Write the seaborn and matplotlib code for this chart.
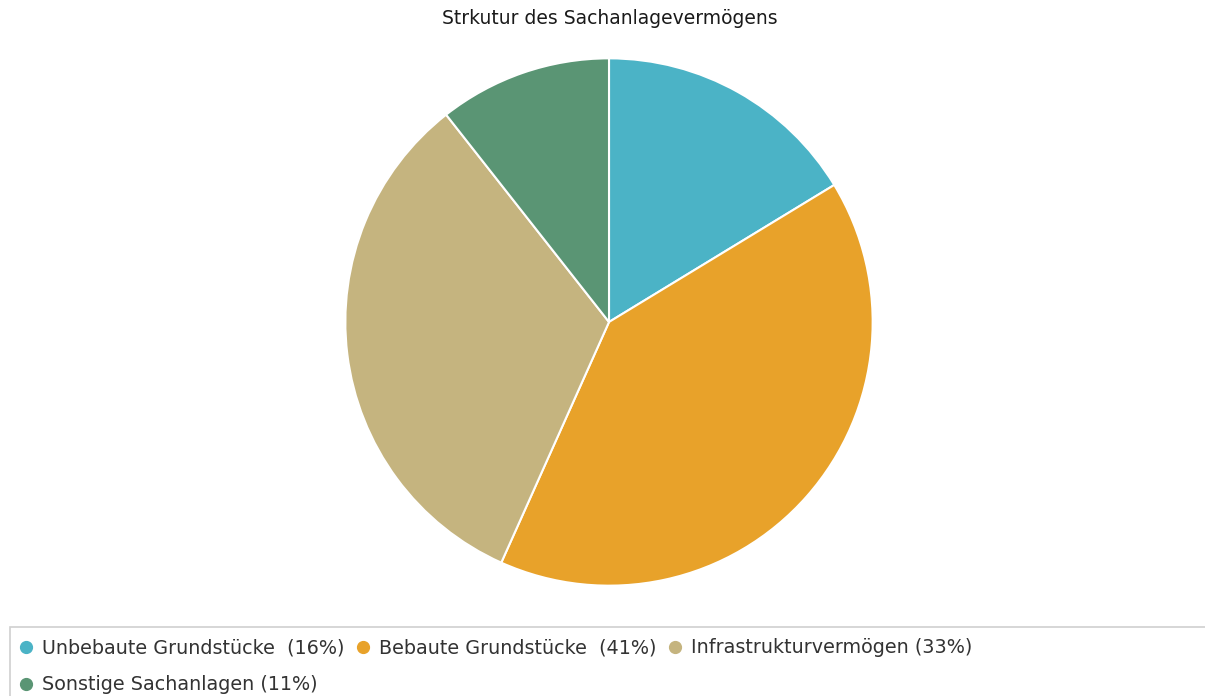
import matplotlib
matplotlib.use("Agg")
import matplotlib.pyplot as plt
import seaborn as sns
from matplotlib.lines import Line2D
from matplotlib.patches import Rectangle

# Daten
kategorien = ["Unbebaute Grundstücke", "Bebaute Grundstücke",
              "Infrastrukturvermögen", "Sonstige Sachanlagen"]
anteile = [16.3, 40.4, 32.7, 10.6]
legenden_texte = ["Unbebaute Grundstücke  (16%)", "Bebaute Grundstücke  (41%)",
                  "Infrastrukturvermögen (33%)", "Sonstige Sachanlagen (11%)"]
farben = ["#4BB3C6", "#E8A22A", "#C5B47F", "#5A9574"]
titel = "Strkutur des Sachanlagevermögens"


def setup_plotting():
    sns.set_theme(style="white")
    # etwas breitere Schrift, da das Original horizontal gestreckt wirkt
    plt.rcParams['font.family'] = ['DejaVu Sans']


setup_plotting()
palette = sns.color_palette(farben)

fig = plt.figure(figsize=(12.05, 6.96), dpi=100)
ax = fig.add_axes([0.2855, 0.1566, 0.4398, 0.7615])

ax.pie(anteile, colors=palette, startangle=90, counterclock=False,
       radius=1.0, wedgeprops={'edgecolor': 'white', 'linewidth': 1.5})
ax.set_xlim(-1.005, 1.005)
ax.set_ylim(-1.005, 1.005)
ax.set_aspect('equal')
ax.axis('off')

fig.text(0.506, 0.974, titel, ha='center', va='center', fontsize=13.5, color='#1a1a1a')

# Legendenrahmen (nur oben und links sichtbar)
fig.patches.append(Rectangle((10 / 1205, -0.1), 1.1, (696 - 627) / 696 + 0.1,
                             transform=fig.transFigure, fill=False,
                             edgecolor='#d0d0d0', linewidth=1.2))

handles = [Line2D([], [], marker='o', linestyle='', markersize=8.5,
                  markerfacecolor=c, markeredgecolor=c) for c in palette]
# Reihenfolge so, dass die Zeilen wie im Original befüllt werden
order = [0, 3, 1, 2]
fig.legend([handles[i] for i in order], [legenden_texte[i] for i in order],
           ncol=3, loc='upper left', bbox_to_anchor=(0.0 / 1205, 1 - 621 / 696),
           frameon=False, fontsize=13.8, handletextpad=0.35, columnspacing=0.5,
           labelspacing=0.95, handlelength=0.95, labelcolor='#333333')

fig.savefig("out.png", dpi=100)
